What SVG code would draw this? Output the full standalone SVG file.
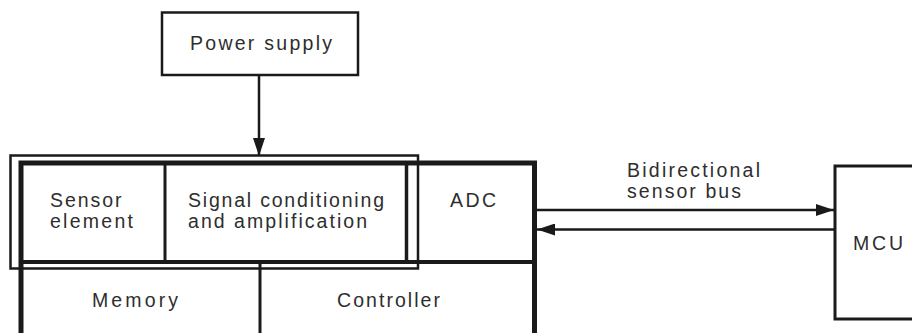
<svg xmlns="http://www.w3.org/2000/svg" width="912" height="333" viewBox="0 0 912 333">
<defs>
<style>
.box{fill:none;stroke:#1a1a1a;}
.t{font-family:"Liberation Sans",Arial,sans-serif;font-size:19.5px;fill:#2e2e2e;}
.ln{stroke:#1a1a1a;fill:none;}
</style>
<marker id="ah" viewBox="0 0 18 12" refX="18" refY="6" markerWidth="18" markerHeight="12" markerUnits="userSpaceOnUse" orient="auto">
<path d="M0,0 L18,6 L0,12 z" fill="#1a1a1a"/>
</marker>
</defs>
<rect width="912" height="333" fill="#fff"/>

<g id="power-supply">
<rect class="box" x="162" y="12.5" width="196" height="62.5" stroke-width="2.5"/>
<text class="t" x="190" y="49.5" font-size="20" textLength="142" lengthAdjust="spacing">Power supply</text>
</g>

<g id="sensor-module">
<rect class="box" x="21" y="163" width="513.5" height="200" stroke-width="5"/>
<line class="ln" x1="21" y1="262" x2="534.5" y2="262" stroke-width="4"/>
</g>

<g id="sensor-group-outline">
<rect class="box" x="10.5" y="155.5" width="407.5" height="113" stroke-width="2.5"/>
</g>

<g id="sensor-element">
<line class="ln" x1="165" y1="163" x2="165" y2="262" stroke-width="3"/>
<text class="t" x="50" y="206.5" textLength="71.5" lengthAdjust="spacing">Sensor</text>
<text class="t" x="50" y="227.5" textLength="83" lengthAdjust="spacing">element</text>
</g>

<g id="signal-conditioning">
<line class="ln" x1="406.5" y1="163" x2="406.5" y2="262" stroke-width="3.5"/>
<text class="t" x="188" y="206.5" textLength="196" lengthAdjust="spacing">Signal conditioning</text>
<text class="t" x="188" y="227.5" textLength="179" lengthAdjust="spacing">and amplification</text>
</g>

<g id="adc">
<text class="t" x="450" y="207" textLength="46" lengthAdjust="spacing">ADC</text>
</g>

<g id="memory">
<line class="ln" x1="260" y1="262" x2="260" y2="340" stroke-width="3"/>
<text class="t" x="92" y="307" textLength="86" lengthAdjust="spacing">Memory</text>
</g>

<g id="controller">
<text class="t" x="337" y="307" textLength="103" lengthAdjust="spacing">Controller</text>
</g>

<g id="mcu">
<rect class="box" x="835" y="166" width="100" height="153" stroke-width="3"/>
<text class="t" x="853" y="250" textLength="50" lengthAdjust="spacing">MCU</text>
</g>

<g id="connectors">
<line class="ln" x1="259" y1="75" x2="259" y2="156" stroke-width="2.5" marker-end="url(#ah)"/>
<line class="ln" x1="537" y1="210" x2="834" y2="210" stroke-width="2.5" marker-end="url(#ah)"/>
<line class="ln" x1="834" y1="229.5" x2="537" y2="229.5" stroke-width="2.5" marker-end="url(#ah)"/>
<text class="t" x="627" y="177" textLength="133" lengthAdjust="spacing">Bidirectional</text>
<text class="t" x="627" y="198" textLength="114" lengthAdjust="spacing">sensor bus</text>
</g>
</svg>
